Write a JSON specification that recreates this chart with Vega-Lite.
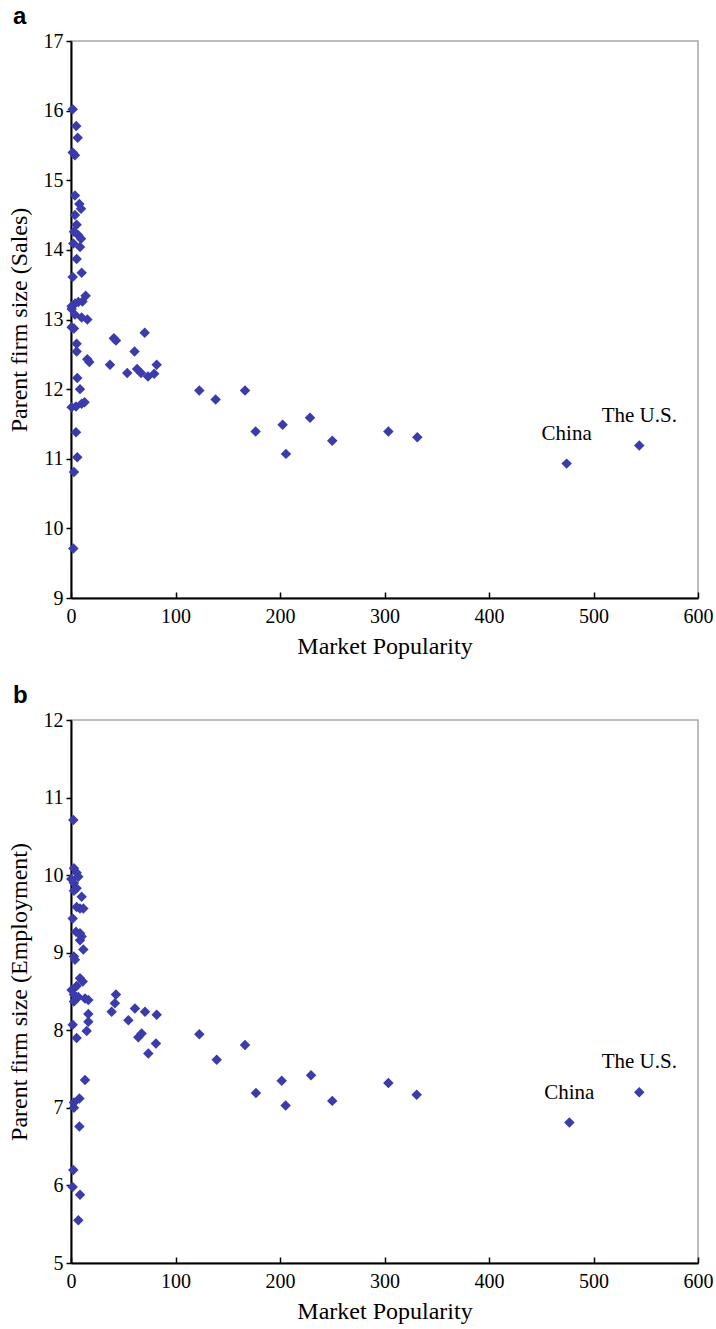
{
  "$schema": "https://vega.github.io/schema/vega-lite/v6.json",
  "background": "white",
  "padding": {"left": 6, "top": 4, "right": 0, "bottom": 0},
  "spacing": 24,
  "config": {
    "view": {"stroke": "#a8a8a8", "strokeWidth": 1.5},
    "title": {"font": "Liberation Sans", "fontSize": 24, "fontWeight": "bold", "anchor": "start", "frame": "bounds", "color": "#000", "offset": 2, "dx": 6}
  },
  "datasets": {
    "sales": [
      {"pop": 1.6, "size": 16.02}, {"pop": 5, "size": 15.78}, {"pop": 6.4, "size": 15.61},
      {"pop": 1.6, "size": 15.40}, {"pop": 3.8, "size": 15.36}, {"pop": 3.8, "size": 14.78},
      {"pop": 8, "size": 14.66}, {"pop": 9.6, "size": 14.59}, {"pop": 3.8, "size": 14.50},
      {"pop": 5.4, "size": 14.36}, {"pop": 2.8, "size": 14.26}, {"pop": 7, "size": 14.21},
      {"pop": 9.6, "size": 14.16}, {"pop": 2.2, "size": 14.09}, {"pop": 8.6, "size": 14.04},
      {"pop": 5.4, "size": 13.87}, {"pop": 10.2, "size": 13.67}, {"pop": 1.6, "size": 13.61},
      {"pop": 14, "size": 13.34}, {"pop": 11, "size": 13.26}, {"pop": 3.8, "size": 13.23},
      {"pop": 0.6, "size": 13.19}, {"pop": 7, "size": 13.25}, {"pop": 0.6, "size": 13.15},
      {"pop": 3.8, "size": 13.07}, {"pop": 10.2, "size": 13.03}, {"pop": 15.6, "size": 13.0},
      {"pop": 0.6, "size": 12.89}, {"pop": 2.8, "size": 12.87}, {"pop": 5.4, "size": 12.65},
      {"pop": 5.4, "size": 12.54}, {"pop": 15.6, "size": 12.43}, {"pop": 17.5, "size": 12.39},
      {"pop": 37.3, "size": 12.35}, {"pop": 41, "size": 12.73}, {"pop": 43, "size": 12.70},
      {"pop": 53.8, "size": 12.23}, {"pop": 60.8, "size": 12.54}, {"pop": 63.2, "size": 12.29},
      {"pop": 70.5, "size": 12.81}, {"pop": 67, "size": 12.23}, {"pop": 73.7, "size": 12.18},
      {"pop": 79.6, "size": 12.22}, {"pop": 82, "size": 12.35}, {"pop": 6, "size": 12.16},
      {"pop": 8.6, "size": 12.0}, {"pop": 0.6, "size": 11.74}, {"pop": 4.8, "size": 11.75},
      {"pop": 10.2, "size": 11.79}, {"pop": 13.0, "size": 11.81}, {"pop": 4.8, "size": 11.38},
      {"pop": 6, "size": 11.02}, {"pop": 2.8, "size": 10.81}, {"pop": 2.2, "size": 9.71},
      {"pop": 122.8, "size": 11.98}, {"pop": 138.4, "size": 11.85}, {"pop": 166.5, "size": 11.98},
      {"pop": 176.7, "size": 11.39}, {"pop": 202.5, "size": 11.49}, {"pop": 205.7, "size": 11.07},
      {"pop": 228.7, "size": 11.59}, {"pop": 250, "size": 11.26}, {"pop": 303.7, "size": 11.39},
      {"pop": 331.4, "size": 11.31},
      {"pop": 474.3, "size": 10.93, "label": "China"},
      {"pop": 543.8, "size": 11.19, "label": "The U.S."}
    ],
    "emp": [
      {"pop": 2.2, "size": 10.71}, {"pop": 2.8, "size": 10.09}, {"pop": 5.4, "size": 10.03},
      {"pop": 0.3, "size": 9.95}, {"pop": 7, "size": 9.98}, {"pop": 2.8, "size": 9.90},
      {"pop": 5.4, "size": 9.83}, {"pop": 2.8, "size": 9.80}, {"pop": 10.2, "size": 9.72},
      {"pop": 5.4, "size": 9.59}, {"pop": 8.6, "size": 9.57}, {"pop": 11.8, "size": 9.57},
      {"pop": 1.6, "size": 9.44}, {"pop": 4.8, "size": 9.27}, {"pop": 8.6, "size": 9.25},
      {"pop": 10.2, "size": 9.21}, {"pop": 8.6, "size": 9.16}, {"pop": 11.8, "size": 9.04},
      {"pop": 2.8, "size": 8.95}, {"pop": 3.8, "size": 8.91}, {"pop": 8.6, "size": 8.67},
      {"pop": 11.2, "size": 8.63}, {"pop": 0.6, "size": 8.52}, {"pop": 5.4, "size": 8.57},
      {"pop": 2.8, "size": 8.46}, {"pop": 7, "size": 8.43}, {"pop": 2.8, "size": 8.37},
      {"pop": 13.4, "size": 8.41}, {"pop": 16.6, "size": 8.39}, {"pop": 16.6, "size": 8.21},
      {"pop": 16.6, "size": 8.11}, {"pop": 15, "size": 7.99}, {"pop": 1.6, "size": 8.07},
      {"pop": 5.4, "size": 7.90}, {"pop": 13.4, "size": 7.36}, {"pop": 8, "size": 7.12},
      {"pop": 2.8, "size": 7.07}, {"pop": 2.8, "size": 7.0}, {"pop": 8, "size": 6.76},
      {"pop": 2.2, "size": 6.20}, {"pop": 1.6, "size": 5.98}, {"pop": 8.6, "size": 5.88},
      {"pop": 7, "size": 5.55},
      {"pop": 43, "size": 8.46}, {"pop": 42, "size": 8.35}, {"pop": 38.9, "size": 8.24},
      {"pop": 54.9, "size": 8.13}, {"pop": 61.2, "size": 8.28}, {"pop": 70.8, "size": 8.24},
      {"pop": 82, "size": 8.20}, {"pop": 67.6, "size": 7.96}, {"pop": 64.4, "size": 7.91},
      {"pop": 81.3, "size": 7.83}, {"pop": 74, "size": 7.70}, {"pop": 122.8, "size": 7.95},
      {"pop": 139.4, "size": 7.62}, {"pop": 166.5, "size": 7.81}, {"pop": 177, "size": 7.19},
      {"pop": 201.6, "size": 7.35}, {"pop": 205.4, "size": 7.03}, {"pop": 229.7, "size": 7.42},
      {"pop": 250, "size": 7.09}, {"pop": 303.7, "size": 7.32}, {"pop": 330.8, "size": 7.17},
      {"pop": 476.9, "size": 6.81, "label": "China"},
      {"pop": 543.8, "size": 7.20, "label": "The U.S."}
    ]
  },
  "vconcat": [
    {
      "title": {"text": "a"},
      "width": 627,
      "height": 557,
      "data": {"name": "sales"},
      "encoding": {
        "x": {"field": "pop", "type": "quantitative", "title": "Market Popularity",
              "scale": {"domain": [0, 600], "nice": false},
              "axis": {"values": [0, 100, 200, 300, 400, 500, 600], "grid": false,
                       "domainColor": "#000", "domainWidth": 2, "tickColor": "#000", "tickWidth": 1.5,
                       "tickSize": -6, "labelPadding": 14, "titlePadding": 8, "labelFlush": false,
                       "labelFont": "Liberation Serif", "labelFontSize": 20, "labelColor": "#000",
                       "titleFont": "Liberation Serif", "titleFontSize": 24, "titleFontWeight": "normal", "titleColor": "#000"}},
        "y": {"field": "size", "type": "quantitative", "title": "Parent firm size (Sales)",
              "scale": {"domain": [9, 17], "nice": false, "zero": false},
              "axis": {"values": [9, 10, 11, 12, 13, 14, 15, 16, 17], "grid": false,
                       "domainColor": "#000", "domainWidth": 2, "tickColor": "#000", "tickWidth": 1.5,
                       "tickSize": 5, "labelPadding": 3, "titlePadding": 12,
                       "labelFont": "Liberation Serif", "labelFontSize": 20, "labelColor": "#000",
                       "titleFont": "Liberation Serif", "titleFontSize": 24, "titleFontWeight": "normal", "titleColor": "#000"}}
      },
      "layer": [
        {"mark": {"type": "point", "shape": "diamond", "filled": true, "size": 110, "color": "#3b3bab", "opacity": 1}},
        {"transform": [{"filter": "datum.label"}],
         "mark": {"type": "text", "font": "Liberation Serif", "fontSize": 21, "color": "#000", "dy": -30, "baseline": "middle"},
         "encoding": {"text": {"field": "label"}}}
      ]
    },
    {
      "title": {"text": "b"},
      "width": 627,
      "height": 543,
      "data": {"name": "emp"},
      "encoding": {
        "x": {"field": "pop", "type": "quantitative", "title": "Market Popularity",
              "scale": {"domain": [0, 600], "nice": false},
              "axis": {"values": [0, 100, 200, 300, 400, 500, 600], "grid": false,
                       "domainColor": "#000", "domainWidth": 2, "tickColor": "#000", "tickWidth": 1.5,
                       "tickSize": -6, "labelPadding": 14, "titlePadding": 8, "labelFlush": false,
                       "labelFont": "Liberation Serif", "labelFontSize": 20, "labelColor": "#000",
                       "titleFont": "Liberation Serif", "titleFontSize": 24, "titleFontWeight": "normal", "titleColor": "#000"}},
        "y": {"field": "size", "type": "quantitative", "title": "Parent firm size (Employment)",
              "scale": {"domain": [5, 12], "nice": false, "zero": false},
              "axis": {"values": [5, 6, 7, 8, 9, 10, 11, 12], "grid": false,
                       "domainColor": "#000", "domainWidth": 2, "tickColor": "#000", "tickWidth": 1.5,
                       "tickSize": 5, "labelPadding": 3, "titlePadding": 12,
                       "labelFont": "Liberation Serif", "labelFontSize": 20, "labelColor": "#000",
                       "titleFont": "Liberation Serif", "titleFontSize": 24, "titleFontWeight": "normal", "titleColor": "#000"}}
      },
      "layer": [
        {"mark": {"type": "point", "shape": "diamond", "filled": true, "size": 110, "color": "#3b3bab", "opacity": 1}},
        {"transform": [{"filter": "datum.label"}],
         "mark": {"type": "text", "font": "Liberation Serif", "fontSize": 21, "color": "#000", "dy": -30, "baseline": "middle"},
         "encoding": {"text": {"field": "label"}}}
      ]
    }
  ]
}
